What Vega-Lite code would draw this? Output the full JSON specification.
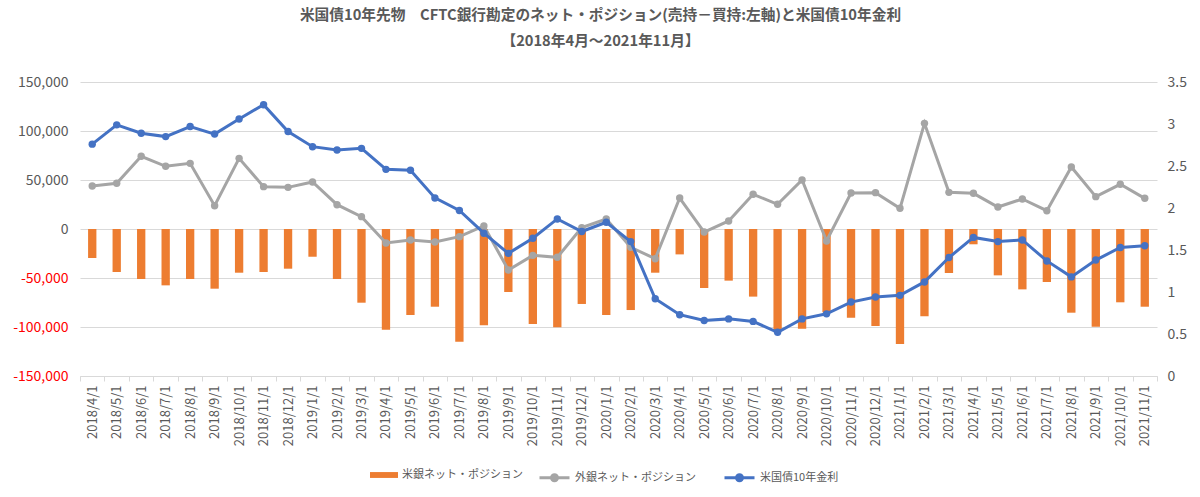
{
  "$schema": "https://vega.github.io/schema/vega-lite/v6.json",
  "width": 1077,
  "height": 294,
  "autosize": {"type": "none"},
  "padding": {"left": 80, "top": 82, "right": 43, "bottom": 121},
  "background": "white",
  "config": {
    "font": "Noto Sans CJK JP",
    "view": {"stroke": null},
    "axis": {"labelColor": "#595959", "labelFontSize": 13, "title": null}
  },
  "title": {
    "text": ["米国債10年先物　CFTC銀行勘定のネット・ポジション(売持－買持:左軸)と米国債10年金利", "【2018年4月～2021年11月】"],
    "fontSize": 14.7,
    "fontWeight": "bold",
    "color": "#595959",
    "lineHeight": 26,
    "offset": 26,
    "anchor": "middle",
    "dx": -18
  },
  "data": {
    "values": [
      {"date": "2018/4/1", "us": -29600, "foreign": 43900, "yield": 2.76},
      {"date": "2018/5/1", "us": -43900, "foreign": 46600, "yield": 2.99},
      {"date": "2018/6/1", "us": -51000, "foreign": 74200, "yield": 2.89},
      {"date": "2018/7/1", "us": -57500, "foreign": 64000, "yield": 2.85},
      {"date": "2018/8/1", "us": -51000, "foreign": 67000, "yield": 2.97},
      {"date": "2018/9/1", "us": -60900, "foreign": 23800, "yield": 2.88},
      {"date": "2018/10/1", "us": -44600, "foreign": 72100, "yield": 3.06},
      {"date": "2018/11/1", "us": -43900, "foreign": 43200, "yield": 3.23},
      {"date": "2018/12/1", "us": -40500, "foreign": 42500, "yield": 2.91},
      {"date": "2019/1/1", "us": -28300, "foreign": 48000, "yield": 2.73},
      {"date": "2019/2/1", "us": -51000, "foreign": 24800, "yield": 2.69},
      {"date": "2019/3/1", "us": -75200, "foreign": 12600, "yield": 2.71},
      {"date": "2019/4/1", "us": -102700, "foreign": -14300, "yield": 2.46},
      {"date": "2019/5/1", "us": -87800, "foreign": -11200, "yield": 2.45},
      {"date": "2019/6/1", "us": -79300, "foreign": -13300, "yield": 2.12},
      {"date": "2019/7/1", "us": -115000, "foreign": -7800, "yield": 1.97},
      {"date": "2019/8/1", "us": -98300, "foreign": 3100, "yield": 1.70},
      {"date": "2019/9/1", "us": -64300, "foreign": -41800, "yield": 1.46},
      {"date": "2019/10/1", "us": -96900, "foreign": -26900, "yield": 1.64},
      {"date": "2019/11/1", "us": -100300, "foreign": -28900, "yield": 1.87},
      {"date": "2019/12/1", "us": -76500, "foreign": 1400, "yield": 1.72},
      {"date": "2020/1/1", "us": -87800, "foreign": 10200, "yield": 1.83},
      {"date": "2020/2/1", "us": -82700, "foreign": -18700, "yield": 1.60},
      {"date": "2020/3/1", "us": -44600, "foreign": -30300, "yield": 0.92},
      {"date": "2020/4/1", "us": -25900, "foreign": 31600, "yield": 0.73},
      {"date": "2020/5/1", "us": -60200, "foreign": -3100, "yield": 0.66},
      {"date": "2020/6/1", "us": -52700, "foreign": 8200, "yield": 0.68},
      {"date": "2020/7/1", "us": -69000, "foreign": 35400, "yield": 0.65},
      {"date": "2020/8/1", "us": -103000, "foreign": 25200, "yield": 0.52},
      {"date": "2020/9/1", "us": -101700, "foreign": 50000, "yield": 0.68},
      {"date": "2020/10/1", "us": -85000, "foreign": -12200, "yield": 0.74},
      {"date": "2020/11/1", "us": -90500, "foreign": 36700, "yield": 0.88},
      {"date": "2020/12/1", "us": -99000, "foreign": 37100, "yield": 0.94},
      {"date": "2021/1/1", "us": -117300, "foreign": 21100, "yield": 0.96},
      {"date": "2021/2/1", "us": -89100, "foreign": 107800, "yield": 1.12},
      {"date": "2021/3/1", "us": -44900, "foreign": 37400, "yield": 1.41},
      {"date": "2021/4/1", "us": -15600, "foreign": 36400, "yield": 1.65},
      {"date": "2021/5/1", "us": -47300, "foreign": 22400, "yield": 1.60},
      {"date": "2021/6/1", "us": -61600, "foreign": 30600, "yield": 1.62},
      {"date": "2021/7/1", "us": -54100, "foreign": 18700, "yield": 1.37},
      {"date": "2021/8/1", "us": -85400, "foreign": 63300, "yield": 1.18},
      {"date": "2021/9/1", "us": -99700, "foreign": 33000, "yield": 1.38},
      {"date": "2021/10/1", "us": -74800, "foreign": 45600, "yield": 1.53},
      {"date": "2021/11/1", "us": -79300, "foreign": 31300, "yield": 1.55}
    ]
  },
  "encoding": {
    "x": {
      "field": "date",
      "type": "nominal",
      "sort": null,
      "scale": {"paddingInner": 0, "paddingOuter": 0},
      "axis": {
        "labelAngle": 270,
        "domain": true,
        "domainColor": "#d9d9d9",
        "ticks": true,
        "tickBand": "extent",
        "tickColor": "#d9d9d9",
        "tickSize": 5,
        "labelPadding": 4,
        "grid": false
      }
    }
  },
  "layer": [
    {
      "layer": [
        {
          "mark": {"type": "bar", "width": {"band": 0.34}},
          "encoding": {
            "y": {
              "field": "us",
              "type": "quantitative",
              "scale": {"domain": [-150000, 150000], "nice": false},
              "axis": {
                "values": [-150000, -100000, -50000, 0, 50000, 100000, 150000],
                "labelExpr": "(datum.value < 0 ? '-' : '') + format(abs(datum.value), ',')",
                "labelColor": {"condition": {"test": "datum.value < 0", "value": "#FF0000"}, "value": "#595959"},
                "labelFontSize": 14,
                "domain": false,
                "ticks": false,
                "labelPadding": 12,
                "grid": true,
                "gridColor": "#d9d9d9",
                "gridWidth": 1
              }
            },
            "fill": {
              "datum": "米銀ネット・ポジション",
              "scale": {"range": ["#ED7D31"]},
              "legend": {
                "orient": "none",
                "legendX": 290,
                "legendY": 379,
                "title": null,
                "symbolType": "M-1,-0.21H1V0.21H-1Z",
                "symbolSize": 784,
                "symbolStrokeWidth": 0,
                "labelFontSize": 11,
                "labelColor": "#595959",
                "labelOffset": 4
              }
            }
          }
        },
        {
          "mark": {"type": "line", "strokeWidth": 3, "point": {"filled": true, "size": 55}},
          "encoding": {
            "y": {"field": "foreign", "type": "quantitative"},
            "color": {
              "datum": "外銀ネット・ポジション",
              "scale": {"domain": ["外銀ネット・ポジション", "米国債10年金利"], "range": ["#A5A5A5", "#4472C4"]},
              "legend": {
                "orient": "none",
                "direction": "horizontal",
                "legendX": 458,
                "legendY": 379,
                "title": null,
                "symbolType": "M-1,0H1M0.2,0A0.2,0.2 0 1 1 -0.2,0A0.2,0.2 0 1 1 0.2,0Z",
                "symbolSize": 900,
                "symbolStrokeWidth": 3,
                "labelFontSize": 11,
                "labelColor": "#595959",
                "labelOffset": 4,
                "columnPadding": 22
              }
            }
          }
        }
      ]
    },
    {
      "mark": {"type": "line", "strokeWidth": 3, "point": {"filled": true, "size": 55}},
      "encoding": {
        "y": {
          "field": "yield",
          "type": "quantitative",
          "scale": {"domain": [0, 3.5], "nice": false},
          "axis": {
            "orient": "right",
            "values": [0, 0.5, 1, 1.5, 2, 2.5, 3, 3.5],
            "format": "~g",
            "labelFontSize": 14,
            "domain": false,
            "ticks": false,
            "grid": false,
            "labelPadding": 10
          }
        },
        "color": {"datum": "米国債10年金利"}
      }
    }
  ],
  "resolve": {"scale": {"y": "independent"}}
}
